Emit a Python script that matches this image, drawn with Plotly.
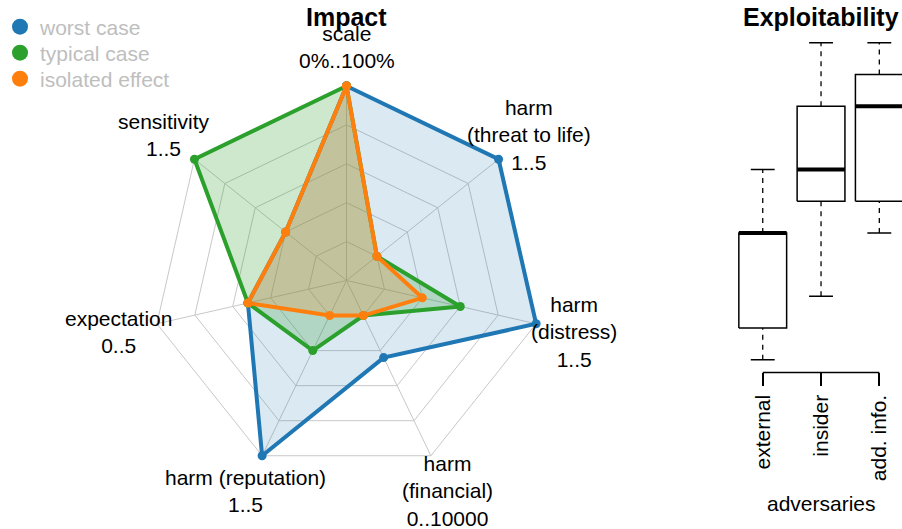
import math
import plotly.graph_objects as go

# ---------------- data ----------------
categories = ["scale", "harm (threat to life)", "harm (distress)", "harm (financial)",
              "harm (reputation)", "expectation", "sensitivity"]
axis_labels = ["scale<br>0%..100%", "harm<br>(threat to life)<br>1..5", "harm<br>(distress)<br>1..5",
               "harm<br>(financial)<br>0..10000", "harm (reputation)<br>1..5", "expectation<br>0..5",
               "sensitivity<br>1..5"]
worst_case = [5, 5, 5, 2.2, 5, 2.6, 2]
typical_case = [5, 1, 3, 1, 2, 2.6, 5]
isolated_effect = [5, 1, 2, 1, 1, 2.6, 2]
series_names = ["worst case", "typical case", "isolated effect"]

adversaries = ["external", "insider", "add. info."]
box_lower = [0, 2, 4]
box_q1 = [1, 5, 5]
box_median = [4, 6, 8]
box_q3 = [4, 8, 9]
box_upper = [6, 10, 10]

# ---------------- style ----------------
W, H = 902, 529
FONT = "Liberation Sans, Arial, sans-serif"
colors = ["#1f77b4", "#2ca02c", "#ff7f0e"]
fills = ["rgba(31,119,180,0.16)", "rgba(44,160,44,0.24)", "rgba(255,127,14,0.22)"]
grid = "#c8c8c8"

cx, cy, R = 346.5, 280.5, 194.5   # radar centre / radius in pixels
RMAX = 5
RPAD = 5.15                        # data layer range, so outer lines are not clipped
R2 = R * RPAD / RMAX


def dom(rad):
    return dict(x=[(cx - rad) / W, (cx + rad) / W], y=[1 - (cy + rad) / H, 1 - (cy - rad) / H])


fig = go.Figure()

# grid layer (needs a trace so the subplot is drawn)
fig.add_trace(go.Scatterpolar(r=[None], theta=[categories[0]], subplot="polar", mode="markers",
                              showlegend=False, hoverinfo="skip"))

for name, vals, col, fc in zip(series_names, [worst_case, typical_case, isolated_effect], colors, fills):
    fig.add_trace(go.Scatterpolar(
        r=vals + [vals[0]], theta=categories + [categories[0]], subplot="polar2",
        mode="lines+markers", fill="toself", fillcolor=fc,
        line=dict(color=col, width=4), marker=dict(color=col, size=9),
        cliponaxis=False, showlegend=False, name=name))

# legend entries (markers only), one legend per row
for k, (name, col) in enumerate(zip(series_names, colors)):
    fig.add_trace(go.Scatterpolar(r=[None], theta=[None], mode="markers", subplot="polar2",
                                  marker=dict(color=col, size=18), name=name, showlegend=True,
                                  legend="legend" if k == 0 else f"legend{k + 1}"))

# ---------------- boxplot drawn from stats ----------------
hw, cw = 0.41, 0.205
bx, by, wx, wy, cxs, cys, mx, my = [], [], [], [], [], [], [], []
for i in range(len(adversaries)):
    bx += [i - hw, i + hw, i + hw, i - hw, i - hw, None]
    by += [box_q1[i], box_q1[i], box_q3[i], box_q3[i], box_q1[i], None]
    wx += [i, i, None, i, i, None]
    wy += [box_lower[i], box_q1[i], None, box_q3[i], box_upper[i], None]
    cxs += [i - cw, i + cw, None, i - cw, i + cw, None]
    cys += [box_lower[i], box_lower[i], None, box_upper[i], box_upper[i], None]
    mx += [i - hw, i + hw, None]
    my += [box_median[i], box_median[i], None]

fig.add_trace(go.Scatter(x=wx, y=wy, mode="lines", line=dict(color="black", width=1.3, dash="5px,5px"),
                         showlegend=False, hoverinfo="skip"))
fig.add_trace(go.Scatter(x=cxs, y=cys, mode="lines", line=dict(color="black", width=1.5),
                         showlegend=False, hoverinfo="skip"))
fig.add_trace(go.Scatter(x=bx, y=by, mode="lines", fill="toself", fillcolor="white",
                         line=dict(color="black", width=1.5), showlegend=False, hoverinfo="skip"))
fig.add_trace(go.Scatter(x=mx, y=my, mode="lines", line=dict(color="black", width=4),
                         showlegend=False, hoverinfo="skip"))

# ---------------- annotations ----------------
annotations = []
n = len(categories)
for i, lab in enumerate(axis_labels):
    th = math.radians(90 - i * 360 / n)
    px = cx + 1.2 * R * math.cos(th)
    py = cy - 1.2 * R * math.sin(th)
    annotations.append(dict(text=lab, x=px / W, y=1 - py / H, xref="paper", yref="paper",
                            xanchor="center", yanchor="middle", showarrow=False, align="center",
                            font=dict(family=FONT, size=21, color="black")))
annotations.append(dict(text="<b>Impact</b>", x=cx / W, y=1 - 17 / H, xref="paper", yref="paper",
                        xanchor="center", yanchor="middle", showarrow=False,
                        font=dict(family=FONT, size=25, color="black")))
annotations.append(dict(text="<b>Exploitability</b>", x=1, y=1 - 17 / H, xref="x", yref="paper",
                        xanchor="center", yanchor="middle", showarrow=False,
                        font=dict(family=FONT, size=25, color="black")))
annotations.append(dict(text="adversaries", x=1, y=1 - 503 / H, xref="x", yref="paper",
                        xanchor="center", yanchor="middle", showarrow=False,
                        font=dict(family=FONT, size=21, color="black")))

legend_rows = [27, 53, 79]
legend_common = dict(x=0, xanchor="left", yanchor="middle", bgcolor="rgba(0,0,0,0)",
                     font=dict(family=FONT, size=21, color="#bebebe"), itemsizing="trace")

box_left = 726.6
fig.update_layout(
    width=W, height=H, margin=dict(l=0, r=0, t=0, b=0),
    paper_bgcolor="white", plot_bgcolor="white",
    font=dict(family=FONT, size=21, color="black"),
    polar=dict(
        domain=dom(R), bgcolor="white", gridshape="linear",
        radialaxis=dict(range=[0, RMAX], tickvals=[1, 2, 3, 4, 5], showticklabels=False, ticks="",
                        showline=False, gridcolor=grid, gridwidth=1),
        angularaxis=dict(direction="clockwise", rotation=90, showticklabels=False, ticks="",
                         showline=True, linecolor=grid, linewidth=1, gridcolor=grid, gridwidth=1,
                         type="category", categoryorder="array", categoryarray=categories),
    ),
    polar2=dict(
        domain=dom(R2), bgcolor="rgba(0,0,0,0)", gridshape="linear",
        radialaxis=dict(range=[0, RPAD], showticklabels=False, ticks="", showline=False, showgrid=False),
        angularaxis=dict(direction="clockwise", rotation=90, showticklabels=False, ticks="",
                         showline=False, showgrid=False,
                         type="category", categoryorder="array", categoryarray=categories),
    ),
    xaxis=dict(domain=[box_left / W, 1], range=[-0.62, 2.389], tickvals=[0, 1, 2], ticktext=adversaries,
               ticks="outside", ticklen=13, tickwidth=1.5, tickcolor="black", tickangle=-90,
               tickfont=dict(family=FONT, size=21, color="black"), showgrid=False, zeroline=False,
               showline=False, fixedrange=True),
    yaxis=dict(domain=[1 - 372.4 / H, 1 - 30.1 / H], range=[-0.4, 10.4], visible=False, fixedrange=True),
    shapes=[dict(type="line", xref="x", x0=0, x1=2, yref="y domain", y0=0, y1=0,
                 line=dict(color="black", width=1.5))],
    annotations=annotations,
    legend=dict(y=1 - legend_rows[0] / H, **legend_common),
    legend2=dict(y=1 - legend_rows[1] / H, **legend_common),
    legend3=dict(y=1 - legend_rows[2] / H, **legend_common),
    showlegend=True,
)

fig.write_html("out.html", config={"displayModeBar": False},
               post_script="document.body.style.margin='0px';")
